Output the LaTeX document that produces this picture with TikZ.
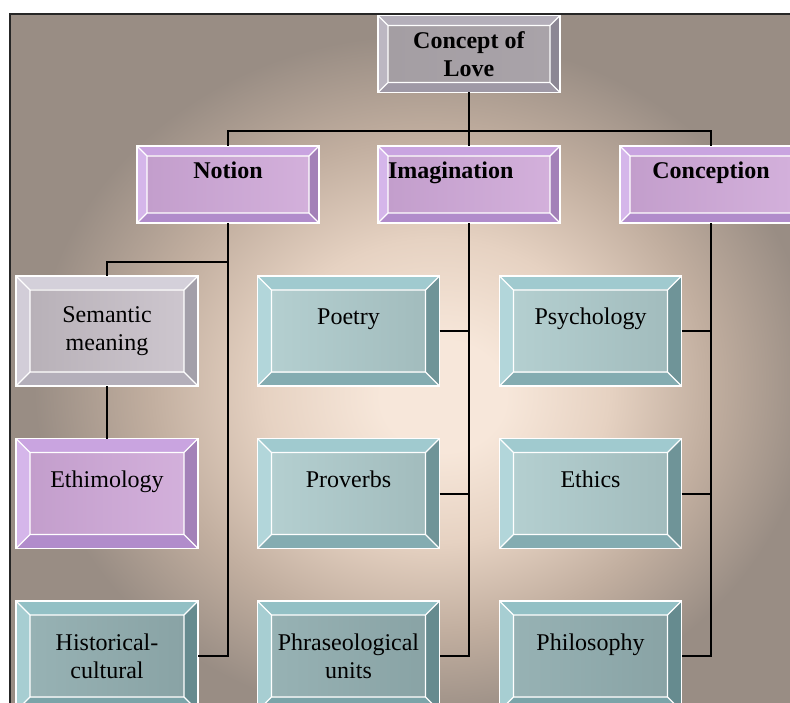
\documentclass[tikz,border=0pt]{standalone}
\usepackage{fontspec}
\setmainfont{Liberation Serif}
\usepackage{xcolor}
\usepackage{tikz}

\definecolor{glowcore}{HTML}{F7E7DA}
\definecolor{glowsoft}{HTML}{E6D2C2}
\definecolor{glowwarm}{HTML}{C1AE9F}
\definecolor{glowedge}{HTML}{998D84}
\pgfdeclareradialshading{glow}{\pgfpoint{3bp}{-3bp}}{color(0bp)=(glowcore); color(4bp)=(glowcore); color(11bp)=(glowsoft); color(18bp)=(glowwarm); color(25bp)=(glowedge); color(50bp)=(glowedge)}

\definecolor{slatetop}{HTML}{B4AFBA}
\definecolor{slateleft}{HTML}{BCB7C2}
\definecolor{slateright}{HTML}{8C8794}
\definecolor{slatebottom}{HTML}{9F99A6}
\definecolor{slatefaceA}{HTML}{A49EA3}
\definecolor{slatefaceB}{HTML}{A9A3A9}
\definecolor{lilactop}{HTML}{C9A4E0}
\definecolor{lilacleft}{HTML}{D5B6EA}
\definecolor{lilacright}{HTML}{A381B8}
\definecolor{lilacbottom}{HTML}{B18CCB}
\definecolor{lilacfaceA}{HTML}{C39ECC}
\definecolor{lilacfaceB}{HTML}{D3B0DB}
\definecolor{greytop}{HTML}{D4D0DA}
\definecolor{greyleft}{HTML}{D2CDD8}
\definecolor{greyright}{HTML}{A39FA9}
\definecolor{greybottom}{HTML}{B4AFBA}
\definecolor{greyfaceA}{HTML}{B8B1B8}
\definecolor{greyfaceB}{HTML}{CDC6CE}
\definecolor{tealtop}{HTML}{A0CACF}
\definecolor{tealleft}{HTML}{B2D6DA}
\definecolor{tealright}{HTML}{6F9498}
\definecolor{tealbottom}{HTML}{84ACB1}
\definecolor{tealfaceA}{HTML}{B4CFD0}
\definecolor{tealfaceB}{HTML}{A2BCBD}
\definecolor{deeptop}{HTML}{93C0C5}
\definecolor{deepleft}{HTML}{A7CED2}
\definecolor{deepright}{HTML}{668B8F}
\definecolor{deepbottom}{HTML}{7BA4A9}
\definecolor{deepfaceA}{HTML}{97B2B4}
\definecolor{deepfaceB}{HTML}{89A3A5}

\def\bev{10pt}
\tikzset{
  box/.style={draw=white, line width=1.5pt, inner sep=0pt, outer sep=0pt,
    minimum width=182pt, minimum height=77pt, align=center,
    font=\fontsize{24}{28}\selectfont,
    path picture={
      \coordinate (pa) at (path picture bounding box.north west);
      \coordinate (pb) at (path picture bounding box.north east);
      \coordinate (pc) at (path picture bounding box.south east);
      \coordinate (pd) at (path picture bounding box.south west);
      \coordinate (qa) at ([xshift=\bev,yshift=-\bev]pa);
      \coordinate (qb) at ([xshift=-\bev,yshift=-\bev]pb);
      \coordinate (qc) at ([xshift=-\bev,yshift=\bev]pc);
      \coordinate (qd) at ([xshift=\bev,yshift=\bev]pd);
      \fill[#1top] (pa) -- (pb) -- (qb) -- (qa) -- cycle;
      \fill[#1left] (pa) -- (qa) -- (qd) -- (pd) -- cycle;
      \fill[#1right] (pb) -- (pc) -- (qc) -- (qb) -- cycle;
      \fill[#1bottom] (pd) -- (qd) -- (qc) -- (pc) -- cycle;
      \shade[left color=#1faceA, right color=#1faceB] (qa) rectangle (qc);
      \draw[white, line width=1.2pt] (qa) rectangle (qc) (pa) -- (qa) (pb) -- (qb) (pc) -- (qc) (pd) -- (qd);
    }},
  bevel/.code={\def\bev{#1}},
  big/.style={minimum height=110pt, bevel=14pt},
  upper/.style={text height=16pt, text depth=28pt},
  link/.style={draw=black, line width=2pt},
}

\begin{document}
\begin{tikzpicture}[x=1pt, y=-1pt]
	\useasboundingbox (0,0) rectangle (790,703);
	\clip (0,0) rectangle (790,703);
	\shade[shading=glow] (10,14) rectangle (790,703);
	\draw[black!85, line width=1.5pt] (10,710) -- (10,14) -- (800,14);
	\node[box=slate] (concept) at (469, 54) {\textbf{Concept of}\\\textbf{Love}};
	\node[box=lilac, upper] (notion) at (228, 184.5) {\textbf{Notion}};
	\node[box=lilac, upper, text width=162pt, align=left] (imagination) at (469, 184.5) {\textbf{Imagination}};
	\node[box=lilac, upper] (conception) at (711, 184.5) {\textbf{Conception}};
	\node[box=grey, big] (semantic) at (107, 331) {Semantic\\meaning};
	\node[box=lilac, big, upper] (ethimology) at (107, 493.5) {Ethimology};
	\node[box=deep, big] (historical) at (107, 656) {Historical-\\cultural};
	\node[box=teal, big, upper] (poetry) at (348.5, 331) {Poetry};
	\node[box=teal, big, upper] (proverbs) at (348.5, 493.5) {Proverbs};
	\node[box=deep, big] (phraseo) at (348.5, 656) {Phraseological\\units};
	\node[box=teal, big, upper] (psychology) at (590.5, 331) {Psychology};
	\node[box=teal, big, upper] (ethics) at (590.5, 493.5) {Ethics};
	\node[box=deep, big, upper] (philosophy) at (590.5, 656) {Philosophy};
	\coordinate (bar) at (0, 131);
	\coordinate (fork) at (0, 262);
	\draw[link] (concept.south) -- (concept.south |- bar);
	\draw[link] (notion.north) |- (conception.north |- bar) -- (conception.north);
	\draw[link] (imagination.north) -- (imagination.north |- bar);
	\draw[link] (notion.south) |- (historical.east);
	\draw[link] (semantic.north) |- (notion.south |- fork);
	\draw[link] (semantic.south) -- (ethimology.north);
	\draw[link] (imagination.south) |- (phraseo.east);
	\draw[link] (poetry.east) -- (poetry.east -| imagination.south);
	\draw[link] (proverbs.east) -- (proverbs.east -| imagination.south);
	\draw[link] (conception.south) |- (philosophy.east);
	\draw[link] (psychology.east) -- (psychology.east -| conception.south);
	\draw[link] (ethics.east) -- (ethics.east -| conception.south);
\end{tikzpicture}
\end{document}
